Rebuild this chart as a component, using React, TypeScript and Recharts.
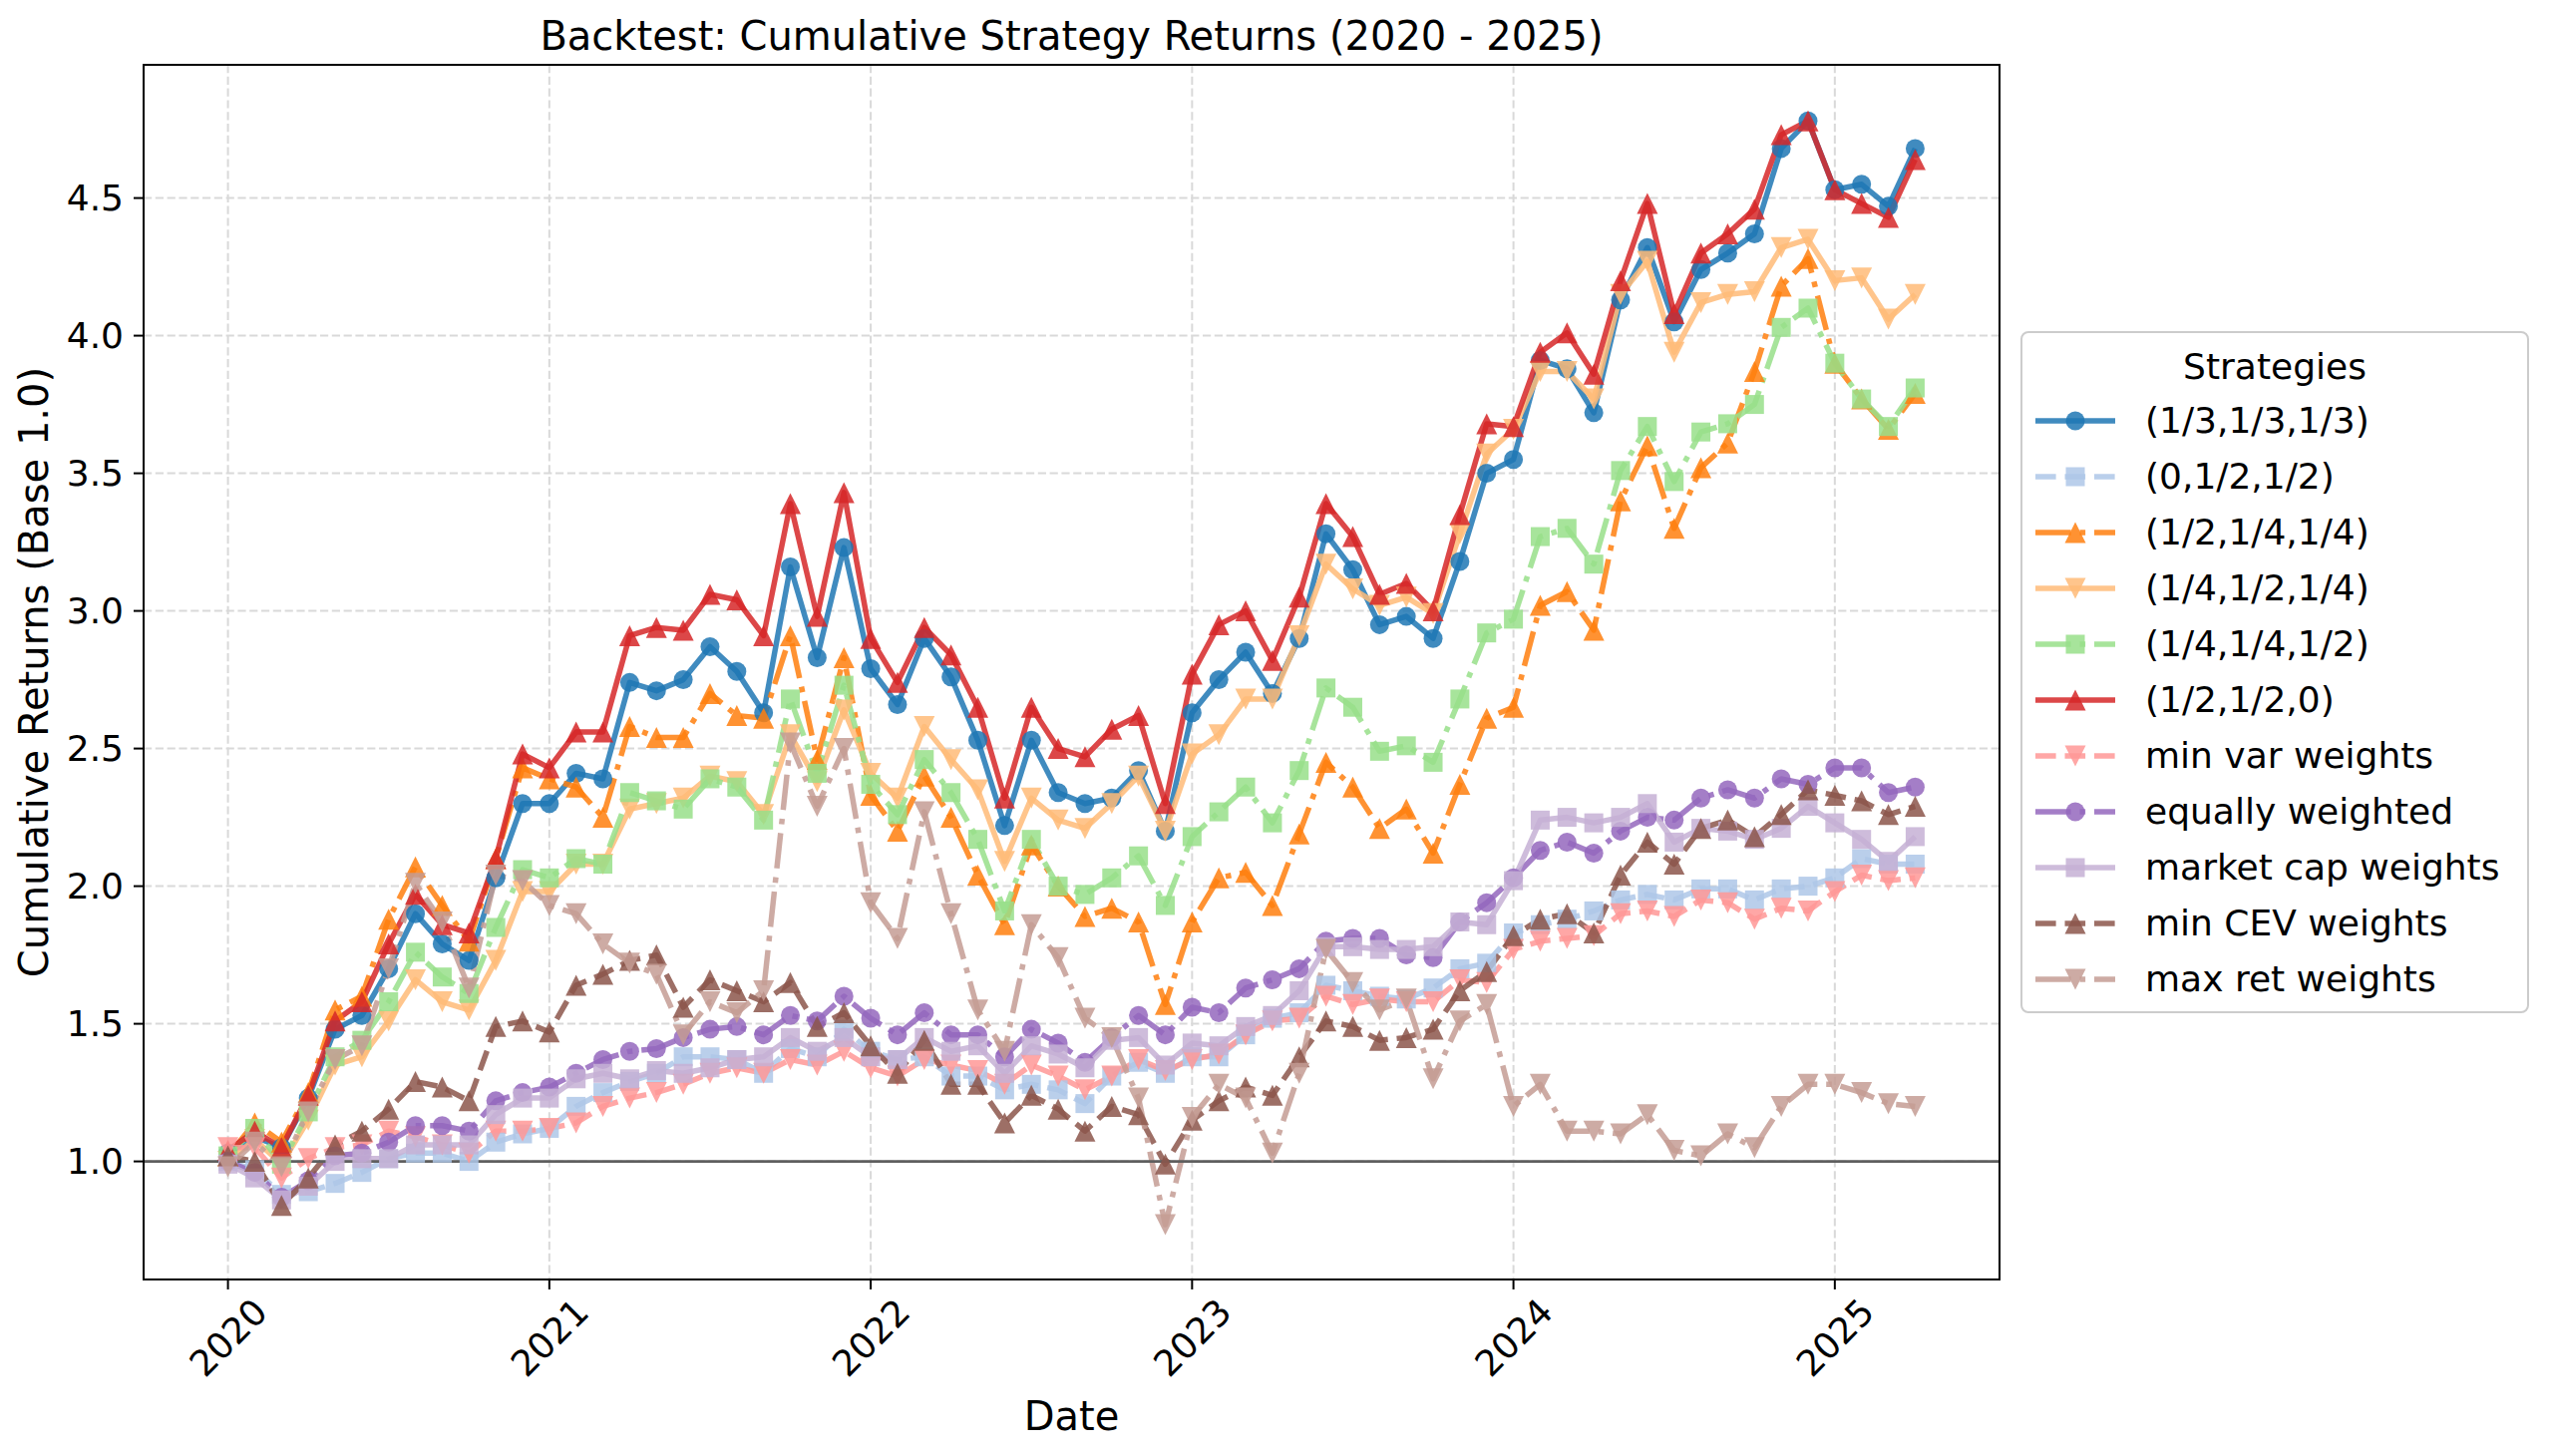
import React from "react";
import { LineChart, Line, XAxis, YAxis, CartesianGrid, ReferenceLine } from "recharts";

// monthly cumulative returns, Jan 2020 .. Apr 2025 (64 points)
const eq333 = [1.03, 1.09, 1.05, 1.23, 1.48, 1.53, 1.7, 1.9, 1.79, 1.73, 2.03, 2.3, 2.3, 2.41, 2.39, 2.74, 2.71, 2.75, 2.87, 2.78, 2.63, 3.16, 2.83, 3.23, 2.79, 2.66, 2.9, 2.76, 2.53, 2.22, 2.53, 2.34, 2.3, 2.32, 2.42, 2.2, 2.63, 2.75, 2.85, 2.7, 2.9, 3.28, 3.15, 2.95, 2.98, 2.9, 3.18, 3.5, 3.55, 3.91, 3.88, 3.72, 4.13, 4.32, 4.05, 4.24, 4.3, 4.37, 4.68, 4.78, 4.53, 4.55, 4.47, 4.68];
const w0_12_12 = [1.0, 0.97, 0.88, 0.89, 0.92, 0.96, 1.01, 1.03, 1.03, 1.0, 1.07, 1.1, 1.12, 1.2, 1.25, 1.29, 1.32, 1.38, 1.38, 1.37, 1.32, 1.41, 1.38, 1.48, 1.4, 1.37, 1.38, 1.31, 1.31, 1.26, 1.28, 1.26, 1.21, 1.31, 1.36, 1.32, 1.38, 1.38, 1.46, 1.52, 1.54, 1.64, 1.62, 1.6, 1.59, 1.63, 1.7, 1.72, 1.83, 1.86, 1.88, 1.91, 1.95, 1.97, 1.95, 1.99, 1.99, 1.95, 1.99, 2.0, 2.03, 2.1, 2.08, 2.08];
const w12_14_14 = [1.02, 1.14, 1.07, 1.25, 1.55, 1.6, 1.88, 2.07, 1.93, 1.8, 2.1, 2.43, 2.39, 2.36, 2.25, 2.58, 2.54, 2.54, 2.7, 2.62, 2.61, 2.91, 2.46, 2.83, 2.33, 2.2, 2.4, 2.25, 2.04, 1.86, 2.15, 2.0, 1.89, 1.92, 1.87, 1.57, 1.87, 2.03, 2.05, 1.93, 2.19, 2.45, 2.36, 2.21, 2.28, 2.12, 2.37, 2.61, 2.65, 3.02, 3.07, 2.93, 3.4, 3.6, 3.3, 3.52, 3.61, 3.87, 4.18, 4.28, 3.9, 3.77, 3.66, 3.79];
const w14_12_14 = [1.0, 1.08, 0.99, 1.15, 1.35, 1.38, 1.51, 1.66, 1.58, 1.55, 1.73, 1.98, 1.98, 2.08, 2.08, 2.28, 2.3, 2.32, 2.4, 2.38, 2.26, 2.55, 2.38, 2.64, 2.41, 2.32, 2.58, 2.46, 2.35, 2.09, 2.32, 2.24, 2.21, 2.3, 2.4, 2.2, 2.48, 2.55, 2.68, 2.68, 2.91, 3.17, 3.08, 3.02, 3.05, 2.99, 3.28, 3.57, 3.66, 3.87, 3.87, 3.77, 4.15, 4.27, 3.94, 4.12, 4.15, 4.16, 4.32, 4.35, 4.2, 4.21, 4.06, 4.15];
const w14_14_12 = [1.02, 1.12, 0.99, 1.18, 1.38, 1.44, 1.58, 1.76, 1.67, 1.61, 1.85, 2.06, 2.03, 2.1, 2.08, 2.34, 2.31, 2.28, 2.39, 2.36, 2.24, 2.68, 2.41, 2.73, 2.37, 2.26, 2.46, 2.34, 2.17, 1.91, 2.17, 2.0, 1.97, 2.03, 2.11, 1.93, 2.18, 2.27, 2.36, 2.23, 2.42, 2.72, 2.65, 2.49, 2.51, 2.45, 2.68, 2.92, 2.97, 3.27, 3.3, 3.17, 3.51, 3.67, 3.47, 3.65, 3.68, 3.75, 4.03, 4.1, 3.9, 3.77, 3.67, 3.81];
const w12_12_0 = [1.04, 1.11, 1.05, 1.24, 1.51, 1.58, 1.79, 1.97, 1.86, 1.83, 2.1, 2.48, 2.43, 2.56, 2.56, 2.91, 2.94, 2.93, 3.06, 3.04, 2.91, 3.39, 2.98, 3.43, 2.9, 2.74, 2.94, 2.84, 2.65, 2.32, 2.65, 2.5, 2.47, 2.57, 2.62, 2.3, 2.77, 2.95, 3.0, 2.82, 3.05, 3.39, 3.27, 3.06, 3.1, 3.0, 3.35, 3.68, 3.67, 3.94, 4.01, 3.86, 4.2, 4.48, 4.08, 4.3, 4.37, 4.46, 4.73, 4.78, 4.53, 4.48, 4.43, 4.64];
const minVar = [1.05, 1.05, 0.94, 1.01, 1.05, 1.06, 1.11, 1.09, 1.06, 1.03, 1.11, 1.11, 1.12, 1.14, 1.2, 1.23, 1.25, 1.28, 1.32, 1.34, 1.32, 1.37, 1.35, 1.4, 1.34, 1.31, 1.37, 1.35, 1.33, 1.28, 1.35, 1.31, 1.26, 1.31, 1.37, 1.33, 1.37, 1.39, 1.46, 1.51, 1.52, 1.6, 1.57, 1.59, 1.58, 1.58, 1.66, 1.65, 1.77, 1.8, 1.81, 1.82, 1.9, 1.91, 1.89, 1.95, 1.94, 1.88, 1.92, 1.91, 1.98, 2.04, 2.02, 2.03];
const equal = [1.0, 0.96, 0.87, 0.93, 1.02, 1.03, 1.07, 1.13, 1.13, 1.11, 1.22, 1.25, 1.27, 1.32, 1.37, 1.4, 1.41, 1.45, 1.48, 1.49, 1.46, 1.53, 1.51, 1.6, 1.52, 1.46, 1.54, 1.46, 1.46, 1.38, 1.48, 1.43, 1.36, 1.45, 1.53, 1.46, 1.56, 1.54, 1.63, 1.66, 1.7, 1.8, 1.81, 1.81, 1.75, 1.74, 1.87, 1.94, 2.03, 2.13, 2.16, 2.12, 2.2, 2.25, 2.24, 2.32, 2.35, 2.32, 2.39, 2.37, 2.43, 2.43, 2.34, 2.36];
const mktCap = [0.99, 0.94, 0.86, 0.91, 1.0, 1.01, 1.01, 1.06, 1.06, 1.06, 1.17, 1.23, 1.23, 1.3, 1.32, 1.3, 1.33, 1.32, 1.34, 1.37, 1.38, 1.45, 1.4, 1.45, 1.38, 1.37, 1.45, 1.4, 1.42, 1.32, 1.42, 1.39, 1.34, 1.44, 1.45, 1.35, 1.43, 1.42, 1.49, 1.53, 1.62, 1.78, 1.78, 1.77, 1.77, 1.78, 1.87, 1.86, 2.02, 2.24, 2.25, 2.23, 2.25, 2.3, 2.16, 2.21, 2.2, 2.17, 2.21, 2.29, 2.23, 2.17, 2.09, 2.18];
const minCev = [1.02, 1.0, 0.84, 0.94, 1.06, 1.11, 1.19, 1.29, 1.27, 1.22, 1.49, 1.51, 1.47, 1.64, 1.68, 1.73, 1.75, 1.56, 1.66, 1.62, 1.58, 1.65, 1.49, 1.54, 1.42, 1.32, 1.44, 1.28, 1.28, 1.14, 1.24, 1.19, 1.11, 1.2, 1.17, 0.99, 1.15, 1.22, 1.27, 1.24, 1.38, 1.51, 1.49, 1.44, 1.45, 1.48, 1.62, 1.69, 1.82, 1.88, 1.9, 1.83, 2.04, 2.16, 2.08, 2.21, 2.24, 2.18, 2.26, 2.35, 2.33, 2.31, 2.26, 2.29];
const maxRet = [0.98, 1.07, 0.98, 1.18, 1.37, 1.42, 1.7, 2.01, 1.87, 1.63, 2.04, 2.02, 1.93, 1.9, 1.79, 1.72, 1.68, 1.46, 1.58, 1.54, 1.62, 2.52, 2.29, 2.5, 1.94, 1.81, 2.27, 1.9, 1.55, 1.4, 1.86, 1.74, 1.52, 1.45, 1.23, 0.77, 1.16, 1.28, 1.23, 1.03, 1.32, 1.77, 1.65, 1.55, 1.59, 1.3, 1.51, 1.57, 1.2, 1.28, 1.11, 1.11, 1.1, 1.17, 1.04, 1.02, 1.1, 1.05, 1.2, 1.28, 1.28, 1.25, 1.21, 1.2];

const yearTicks = [0, 12, 24, 36, 48, 60];
const yearLabels = ["2020", "2021", "2022", "2023", "2024", "2025"];
const yTicks = [1.0, 1.5, 2.0, 2.5, 3.0, 3.5, 4.0, 4.5];

const FONT = "'DejaVu Sans', sans-serif";
const DASHED = "20.6 8.9";
const DASHDOT = "35.6 8.9 5.6 8.9";

const series = [
  { key: "s1", name: "(1/3,1/3,1/3)", values: eq333, color: "#1f77b4", marker: "o", dash: undefined },
  { key: "s2", name: "(0,1/2,1/2)", values: w0_12_12, color: "#aec7e8", marker: "s", dash: DASHED },
  { key: "s3", name: "(1/2,1/4,1/4)", values: w12_14_14, color: "#ff7f0e", marker: "^", dash: DASHDOT },
  { key: "s4", name: "(1/4,1/2,1/4)", values: w14_12_14, color: "#ffbb78", marker: "v", dash: undefined },
  { key: "s5", name: "(1/4,1/4,1/2)", values: w14_14_12, color: "#98df8a", marker: "s", dash: DASHDOT },
  { key: "s6", name: "(1/2,1/2,0)", values: w12_12_0, color: "#d62728", marker: "^", dash: undefined },
  { key: "s7", name: "min var weights", values: minVar, color: "#ff9896", marker: "v", dash: DASHED },
  { key: "s8", name: "equally weighted", values: equal, color: "#9467bd", marker: "o", dash: DASHDOT },
  { key: "s9", name: "market cap weights", values: mktCap, color: "#c5b0d5", marker: "s", dash: undefined },
  { key: "s10", name: "min CEV weights", values: minCev, color: "#8c564b", marker: "^", dash: DASHED },
  { key: "s11", name: "max ret weights", values: maxRet, color: "#c49c94", marker: "v", dash: DASHDOT },
];

const data = eq333.map((_, i) => {
  const row: Record<string, number> = { t: i };
  series.forEach((s) => {
    row[s.key] = s.values[i];
  });
  return row;
});

const ALPHA = 0.85;

function Marker({ shape, x, y, color }: { shape: string; x: number; y: number; color: string }) {
  if (shape === "o") return <circle cx={x} cy={y} r={9.5} fill={color} fillOpacity={ALPHA} />;
  if (shape === "s")
    return <rect x={x - 9.5} y={y - 9.5} width={19} height={19} fill={color} fillOpacity={ALPHA} />;
  const r = 10.5;
  if (shape === "^")
    return (
      <path
        d={`M${x},${y - r} L${x + r},${y + r} L${x - r},${y + r} Z`}
        fill={color}
        fillOpacity={ALPHA}
      />
    );
  return (
    <path
      d={`M${x},${y + r} L${x + r},${y - r} L${x - r},${y - r} Z`}
      fill={color}
      fillOpacity={ALPHA}
    />
  );
}

const makeDot = (shape: string, color: string) => (props: any) => {
  const { cx, cy, index } = props;
  if (cx == null || cy == null) return <g key={`d-${index}`} />;
  return <Marker key={`d-${index}`} shape={shape} x={cx} y={cy} color={color} />;
};

function XTick(props: any) {
  const { x, payload } = props;
  const idx = yearTicks.indexOf(payload.value);
  const cy = 1341;
  return (
    <text
      x={x}
      y={cy}
      dy={13}
      textAnchor="middle"
      transform={`rotate(-45, ${x}, ${cy})`}
      fontSize={36}
      fontFamily={FONT}
      fill="#000"
    >
      {yearLabels[idx]}
    </text>
  );
}

function LegendBox() {
  return (
    <div
      style={{
        position: "absolute",
        left: 2026,
        top: 332,
        width: 510,
        height: 684,
        boxSizing: "border-box",
        border: "2px solid #cccccc",
        borderRadius: 8,
        background: "rgba(255,255,255,0.8)",
        fontFamily: FONT,
        fontSize: 36,
        color: "#000",
      }}
    >
      <div style={{ position: "absolute", top: 12, width: "100%", textAlign: "center", lineHeight: "44px" }}>
        Strategies
      </div>
      {series.map((s, i) => (
        <div
          key={s.key}
          style={{ position: "absolute", left: 0, top: 66 + i * 56, height: 44, width: "100%" }}
        >
          <svg width={100} height={44} style={{ position: "absolute", left: 0, top: 0 }}>
            <line
              x1={13}
              x2={93}
              y1={22}
              y2={22}
              stroke={s.color}
              strokeOpacity={ALPHA}
              strokeWidth={5.5}
              strokeDasharray={s.dash}
            />
            <Marker shape={s.marker} x={53} y={22} color={s.color} />
          </svg>
          <div style={{ position: "absolute", left: 123, top: 0, lineHeight: "44px", whiteSpace: "nowrap" }}>
            {s.name}
          </div>
        </div>
      ))}
    </div>
  );
}

export default function App() {
  return (
    <div
      style={{
        position: "absolute",
        left: 0,
        top: 0,
        width: 2560,
        height: 1460,
        background: "#fff",
        overflow: "hidden",
      }}
    >
      <LineChart
        width={2560}
        height={1460}
        data={data}
        margin={{ top: 65, right: 555, bottom: 57, left: 24 }}
      >
        <CartesianGrid stroke="#d9d9d9" strokeWidth={2} strokeDasharray="8.2 3.6" />
        <XAxis
          type="number"
          dataKey="t"
          domain={[-3.15, 66.15]}
          allowDataOverflow
          ticks={yearTicks}
          height={120}
          tickSize={10}
          tickLine={{ stroke: "#000", strokeWidth: 2 }}
          axisLine={{ stroke: "#000", strokeWidth: 2 }}
          tick={<XTick />}
        />
        <YAxis
          type="number"
          domain={[0.571, 4.984]}
          allowDataOverflow
          ticks={yTicks}
          width={120}
          tickSize={10}
          tickMargin={10}
          tickFormatter={(v: number) => v.toFixed(1)}
          tickLine={{ stroke: "#000", strokeWidth: 2 }}
          axisLine={{ stroke: "#000", strokeWidth: 2 }}
          tick={{ fontSize: 36, fontFamily: FONT, fill: "#000" }}
        />
        {series.map((s) => (
          <Line
            key={s.key}
            type="linear"
            dataKey={s.key}
            name={s.name}
            stroke={s.color}
            strokeOpacity={ALPHA}
            strokeWidth={5.5}
            strokeDasharray={s.dash}
            strokeLinejoin="round"
            dot={makeDot(s.marker, s.color)}
            activeDot={false}
            isAnimationActive={false}
          />
        ))}
        <ReferenceLine y={1} stroke="#5f5f5f" strokeWidth={2.6} />
      </LineChart>
      <div
        style={{
          position: "absolute",
          left: 143,
          top: 64,
          width: 1863,
          height: 1220,
          boxSizing: "border-box",
          border: "2px solid #000",
          pointerEvents: "none",
        }}
      />
      <svg
        width={2560}
        height={1460}
        style={{ position: "absolute", left: 0, top: 0, pointerEvents: "none" }}
      >
        <text x={1074.5} y={50} textAnchor="middle" fontSize={40} fontFamily={FONT} fill="#000">
          Backtest: Cumulative Strategy Returns (2020 - 2025)
        </text>
        <text x={1074.5} y={1434} textAnchor="middle" fontSize={40} fontFamily={FONT} fill="#000">
          Date
        </text>
        <text
          x={48}
          y={674}
          textAnchor="middle"
          transform="rotate(-90, 48, 674)"
          fontSize={40}
          fontFamily={FONT}
          fill="#000"
        >
          Cumulative Returns (Base 1.0)
        </text>
      </svg>
      <LegendBox />
    </div>
  );
}
